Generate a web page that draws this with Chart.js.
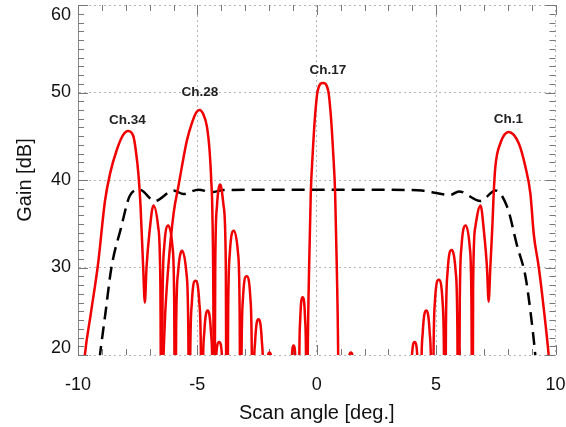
<!DOCTYPE html>
<html><head><meta charset="utf-8">
<style>html,body{margin:0;padding:0;background:#fff;}#wrap{width:566px;height:427px;}</style>
<script src="https://cdn.jsdelivr.net/npm/chart.js@4.4.1/dist/chart.umd.min.js"></script>
</head><body><div id="wrap"><canvas id="c" width="566" height="427"></canvas></div>
<script>
// ---------- data ----------
const xTicks = [-10, -5, 0, 5, 10];
const yTicks = [20, 30, 40, 50, 60];

const ch34X = [-9.85,-9.72,-9.47,-9.16,-8.87,-8.66,-8.38,-8.12,-7.9,-7.68,-7.58,-7.47,-7.38,-7.27,-7.2,-7.13,-7.0,-6.84,-6.64,-6.55,-6.5,-6.46,-6.39,-6.22,-6.04,-5.97,-5.93,-5.89,-5.81,-5.64,-5.46,-5.38,-5.34,-5.3,-5.23,-5.08,-4.92,-4.85,-4.81,-4.78,-4.71,-4.57,-4.43,-4.36,-4.33,-4.3,-4.23,-4.09,-3.95,-3.88,-3.85];
const ch34Y = [15,19.8,24.6,30.4,37.6,40.7,43.4,45.1,45.6,45.0,43.4,40.7,37,30,26,30,34.2,37.1,34.6,28.1,0,25.8,32.3,34.8,32.3,25.8,0,22.9,29.4,31.9,29.4,22.9,0,19.5,26,28.5,26,19.5,0,16.1,22.6,25.1,22.6,16.1,0,12.5,19,21.5,19,12.5,0];

const ch28X = [-6.55,-6.42,-6.35,-6.22,-6.0,-5.8,-5.65,-5.44,-5.23,-5.05,-4.91,-4.75,-4.6,-4.49,-4.42,-4.37,-4.33,-4.3,-4.25,-4.18,-4.04,-3.9,-3.81,-3.77,-3.71,-3.64,-3.47,-3.3,-3.23,-3.19,-3.15,-3.09,-2.94,-2.78,-2.72,-2.68,-2.65,-2.58,-2.44,-2.3,-2.23,-2.2,-2.11,-1.98,-1.85,-1.76];
const ch28Y = [10,19.8,24.6,30,36.1,39.2,41.5,44.5,46.5,47.7,48.0,47.5,46.1,43.4,40,36.1,26,0,30.5,37,39.5,37,30.5,0,25.2,31.7,34.2,31.7,25.2,0,20,26.5,29,26.5,20,0,15.1,21.6,24.1,21.6,15.1,0,17.5,20.3,17.5,0];

const ch17X = [-1.12,-1.06,-0.97,-0.88,-0.82,-0.76,-0.736,-0.692,-0.59,-0.488,-0.444,-0.42,-0.38,-0.32,-0.25,-0.17,-0.08,0.04,0.26,0.48,0.6,0.69,0.77,0.84,0.9,0.94,1.06,1.2,1.3,1.43,1.56,1.66];
const ch17Y = [0,18.6,21.1,18.6,0,0,17.6,24.1,26.6,24.1,17.6,0,19,30,38.5,43,47,50.2,51.1,50.2,47,43,38.5,30,19,0,17,0,17.8,20.3,17.8,0];

const ch1X = [3.88,3.91,3.97,4.1,4.23,4.29,4.32,4.34,4.37,4.44,4.59,4.73,4.8,4.83,4.85,4.89,4.95,5.11,5.27,5.33,5.37,5.41,5.48,5.65,5.82,5.89,5.93,5.95,5.99,6.06,6.24,6.41,6.48,6.52,6.55,6.64,6.86,7.0,7.13,7.2,7.27,7.36,7.41,7.48,7.69,8.04,8.46,8.74,8.95,9.09,9.3,9.5,9.72,9.85];
const ch1Y = [0,12.5,19,21.5,19,12.5,0,0,16.1,22.6,25.1,22.6,16.1,0,0,19.6,26.1,28.6,26.1,19.6,0,23,29.5,32,29.5,23,0,0,25.8,32.3,34.8,32.3,25.8,0,28.1,34.6,37.1,34.2,30,26.1,30,35,38.4,41.5,44.2,45.5,44.2,41.5,38.4,33.8,30,25.5,19.8,15];

const envX = [-9.3,-9.09,-8.85,-8.6,-8.2,-7.83,-7.43,-6.78,-6.0,-5.58,-4.96,-4.39,-3.9,0,3.9,4.4,4.83,5.6,5.95,6.86,7.48,7.98,8.39,8.74,8.95,9.16,9.3];
const envY = [15,19.8,24.8,30,34.5,38.2,38.9,37.6,38.8,38.4,38.9,38.6,38.85,38.9,38.85,38.8,38.6,38.3,38.7,37.6,38.8,36.9,32.5,29,25,19.8,15];

const annoText = ['Ch.34', 'Ch.28', 'Ch.17', 'Ch.1'];
const annoX = [-7.93, -4.9, 0.47, 8.03];
const annoY = [46.86, 50.06, 52.57, 46.94];

// ---------- chart ----------
const FONT = '"Liberation Sans", Arial, Helvetica, sans-serif';
const RED = 'rgb(240,0,0)';
const pts = (xs, ys) => xs.map((x, i) => ({x: x, y: ys[i]}));

function redSet(xs, ys) {
  return {data: pts(xs, ys), borderColor: RED, borderWidth: 2.5, pointRadius: 0,
          cubicInterpolationMode: 'monotone', fill: false};
}

const decor = {
  id: 'decor',
  beforeDatasetsDraw(chart) {
    const {ctx, chartArea: a, scales: {x, y}} = chart;
    ctx.save();
    ctx.strokeStyle = '#777';
    ctx.lineWidth = 1;
    ctx.beginPath();
    for (let v = 20; v <= 60; v++) {
      const p = Math.round(y.getPixelForValue(v)) + 0.5;
      const len = v % 10 === 0 ? 10 : 6;
      ctx.moveTo(a.left, p); ctx.lineTo(a.left + len, p);
      ctx.moveTo(a.right, p); ctx.lineTo(a.right - len, p);
    }
    for (let v = -10; v <= 10; v++) {
      const p = Math.round(x.getPixelForValue(v)) + 0.5;
      const len = v % 5 === 0 ? 10 : 6;
      ctx.moveTo(p, a.bottom); ctx.lineTo(p, a.bottom - len);
      ctx.moveTo(p, a.top); ctx.lineTo(p, a.top + len);
    }
    ctx.stroke();
    ctx.restore();
  },
  afterDraw(chart) {
    const {ctx, chartArea: a, scales: {x, y}} = chart;
    ctx.save();
    ctx.font = '18px ' + FONT;
    ctx.fillStyle = '#111';
    ctx.textAlign = 'right';
    ctx.textBaseline = 'middle';
    yTicks.forEach(v => {
      let p = y.getPixelForValue(v);
      p = Math.min(Math.max(p, a.top + 10), a.bottom - 7);
      ctx.fillText(String(v), a.left - 7, p);
    });
    ctx.font = 'bold 13.5px ' + FONT;
    ctx.fillStyle = '#222';
    ctx.textAlign = 'center';
    annoText.forEach((t, i) => {
      ctx.fillText(t, x.getPixelForValue(annoX[i]), y.getPixelForValue(annoY[i]));
    });
    ctx.restore();
  }
};

new Chart(document.getElementById('c'), {
  type: 'line',
  data: {
    datasets: [
      redSet(ch34X, ch34Y),
      redSet(ch28X, ch28Y),
      redSet(ch17X, ch17Y),
      redSet(ch1X, ch1Y),
      {data: pts(envX, envY), borderColor: '#000', borderWidth: 2.5, borderDash: [13, 7],
       pointRadius: 0, cubicInterpolationMode: 'monotone', fill: false}
    ]
  },
  options: {
    responsive: false,
    animation: false,
    devicePixelRatio: 1,
    layout: {padding: {top: 5, right: 10.5, left: 0, bottom: 0}},
    plugins: {legend: {display: false}, tooltip: {enabled: false}},
    scales: {
      x: {
        type: 'linear', min: -10, max: 10,
        afterBuildTicks: s => { s.ticks = xTicks.map(v => ({value: v})); },
        afterFit: s => { s.height = 72; s.paddingLeft = 0; s.paddingRight = 0; },
        ticks: {font: {family: FONT, size: 18}, color: '#111', padding: 19, maxRotation: 0},
        grid: {color: '#b5b5b5', lineWidth: 1, drawTicks: false},
        border: {display: false, dash: [2, 3]},
        title: {display: true, text: 'Scan angle [deg.]', color: '#111',
                font: {family: FONT, size: 20}, padding: {top: 0, bottom: 2}}
      },
      y: {
        type: 'linear', min: 20, max: 60,
        afterBuildTicks: s => { s.ticks = yTicks.map(v => ({value: v})); },
        afterFit: s => { s.width = 78; s.paddingTop = 0; s.paddingBottom = 0; },
        ticks: {display: false},
        grid: {color: '#b5b5b5', lineWidth: 1, drawTicks: false},
        border: {display: true, color: '#888', width: 1, dash: [2, 3]},
        title: {display: true, text: 'Gain [dB]', color: '#111',
                font: {family: FONT, size: 20}, padding: {top: 13, bottom: 0}}
      }
    }
  },
  plugins: [decor]
});
</script>
</body></html>
